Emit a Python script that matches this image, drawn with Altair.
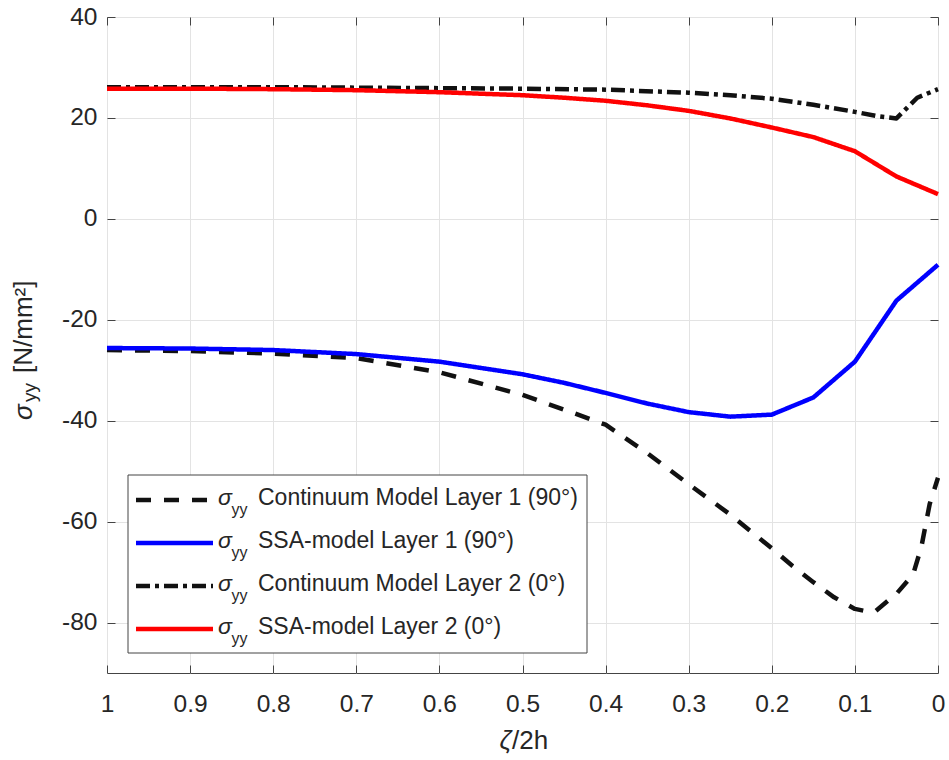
import altair as alt
import pandas as pd

# ---------------- data ----------------
zeta_cont1 = [1.0, 0.9, 0.8, 0.7, 0.6, 0.5, 0.45, 0.4, 0.35, 0.3, 0.25, 0.2, 0.175,
              0.15, 0.125, 0.1, 0.085, 0.075, 0.05, 0.03, 0.02, 0.01, 0.0]
cont_l1 = [-26.0, -26.2, -26.7, -27.6, -30.4, -34.9, -37.8, -40.8, -46.4, -52.6, -58.6,
           -65.3, -68.8, -72.0, -75.0, -77.3, -77.8, -77.7, -74.3, -70.5, -65.0, -56.5, -51.3]

zeta_ssa = [1.0, 0.9, 0.8, 0.7, 0.6, 0.5, 0.45, 0.4, 0.35, 0.3, 0.25, 0.2, 0.15, 0.1, 0.05, 0.0]
ssa_l1 = [-25.6, -25.7, -26.0, -26.8, -28.3, -30.8, -32.5, -34.5, -36.6, -38.3, -39.2,
          -38.8, -35.4, -28.3, -16.2, -9.1]
ssa_l2 = [25.8, 25.8, 25.7, 25.5, 25.1, 24.5, 24.0, 23.4, 22.5, 21.4, 19.9, 18.1, 16.2,
          13.4, 8.4, 4.9]

zeta_cont2 = [1.0, 0.9, 0.8, 0.7, 0.6, 0.5, 0.4, 0.3, 0.25, 0.2, 0.15, 0.1, 0.075, 0.05, 0.025, 0.0]
cont_l2 = [26.1, 26.1, 26.1, 26.0, 25.9, 25.8, 25.6, 25.0, 24.5, 23.8, 22.6, 21.2, 20.4,
           19.9, 24.0, 25.7]

series_keys = ["cont1", "ssa1", "cont2", "ssa2"]
legend_labels = ["Continuum Model Layer 1 (90°)", "SSA-model Layer 1 (90°)",
                 "Continuum Model Layer 2 (0°)", "SSA-model Layer 2 (0°)"]
series_colors = ["#111111", "#0000ff", "#111111", "#ff0000"]
series_dashes = [[15, 13], [1, 0], [14, 5, 4, 5], [1, 0]]

x_ticks = [0, 0.1, 0.2, 0.3, 0.4, 0.5, 0.6, 0.7, 0.8, 0.9, 1]
y_ticks = [-80, -60, -40, -20, 0, 20, 40]

FONT = "Liberation Sans"
TXT = "#262626"
AX = "#444444"
W, H = 831, 656

df_c1 = pd.DataFrame({"z": zeta_cont1, "v": cont_l1})
df_s1 = pd.DataFrame({"z": zeta_ssa, "v": ssa_l1})
df_c2 = pd.DataFrame({"z": zeta_cont2, "v": cont_l2})
df_s2 = pd.DataFrame({"z": zeta_ssa, "v": ssa_l2})

xs = alt.Scale(domain=[0, 1], reverse=True, nice=False, zero=False)
ys = alt.Scale(domain=[-90, 40], nice=False, zero=False)


def xe(axis=None):
    return alt.X("z:Q", scale=xs, axis=axis)


def ye(axis=None):
    return alt.Y("v:Q", scale=ys, axis=axis)


# grid layer (behind everything)
grid = alt.Chart(df_s2).mark_line(opacity=0).encode(
    x=xe(alt.Axis(orient="bottom", values=x_ticks, grid=True, gridColor="#e3e3e3",
                  labels=False, ticks=False, domain=False, title=None)),
    y=ye(alt.Axis(orient="left", values=y_ticks, grid=True, gridColor="#e3e3e3",
                  labels=False, ticks=False, domain=False, title=None)),
)


def line(df, color, dash):
    return alt.Chart(df).mark_line(color=color, strokeDash=dash, strokeWidth=4.5,
                                   strokeJoin="round").encode(x=xe(), y=ye())


l_c1 = line(df_c1, series_colors[0], series_dashes[0])
l_s1 = line(df_s1, series_colors[1], series_dashes[1])
l_c2 = line(df_c2, series_colors[2], series_dashes[2])
l_s2 = line(df_s2, series_colors[3], series_dashes[3])

# main axes: bottom / left, inward ticks
axes_bl = alt.Chart(df_s2).mark_line(opacity=0).encode(
    x=xe(alt.Axis(orient="bottom", values=x_ticks, labelExpr="'' + datum.value",
                  offset=-8, tickSize=8, tickColor=AX, domain=False, grid=False,
                  labelFont=FONT, labelFontSize=24.5, labelColor=TXT, labelPadding=19,
                  labelFlush=False, labelOverlap=False, title=None)),
    y=ye(alt.Axis(orient="left", values=y_ticks, labelExpr="'' + datum.value",
                  offset=-8, tickSize=8, tickColor=AX, domain=False, grid=False,
                  labelFont=FONT, labelFontSize=24.5, labelColor=TXT, labelPadding=10,
                  labelFlush=False, labelOverlap=False, title=None)),
)

# top / right ticks only
axes_tr = alt.Chart(df_s2).mark_line(opacity=0).encode(
    x=xe(alt.Axis(orient="top", values=x_ticks, offset=-8, tickSize=8, tickColor=AX,
                  domain=False, grid=False, labels=False, title=None)),
    y=ye(alt.Axis(orient="right", values=y_ticks, offset=-8, tickSize=8, tickColor=AX,
                  domain=False, grid=False, labels=False, title=None)),
)

# ---------------- legend (box, samples, texts with subscripts) ----------------
legend_df = pd.DataFrame({"series": series_keys, "label": legend_labels, "row": [0, 1, 2, 3]})
row_y = alt.Y("row:Q", scale=alt.Scale(domain=[0, 3], range=[483, 612], nice=False, zero=False),
              axis=None)
col_enc = alt.Color("series:N", scale=alt.Scale(domain=series_keys, range=series_colors),
                    legend=None)
dash_enc = alt.StrokeDash("series:N", scale=alt.Scale(domain=series_keys, range=series_dashes),
                          legend=None)

leg_box = alt.Chart(pd.DataFrame({"b": [0]})).mark_rect(
    fill="white", stroke=AX, strokeWidth=1
).encode(x=alt.value(21), x2=alt.value(480), y=alt.value(458), y2=alt.value(636))

leg_lines = alt.Chart(legend_df).mark_rule(strokeWidth=4.5).encode(
    x=alt.value(29), x2=alt.value(106), y=row_y, color=col_enc, strokeDash=dash_enc
)
leg_sigma = alt.Chart(legend_df).mark_text(
    align="left", baseline="alphabetic", font=FONT, fontSize=23, fontStyle="italic",
    color=TXT, dy=5
).encode(x=alt.value(111), y=row_y, text=alt.value("σ"))
leg_sub = alt.Chart(legend_df).mark_text(
    align="left", baseline="alphabetic", font=FONT, fontSize=16, color=TXT, dy=15
).encode(x=alt.value(124.5), y=row_y, text=alt.value("yy"))
leg_text = alt.Chart(legend_df).mark_text(
    align="left", baseline="alphabetic", font=FONT, fontSize=23, color=TXT, dy=5
).encode(x=alt.value(151), y=row_y, text="label:N")

# ---------------- axis titles ----------------
one = pd.DataFrame({"t": [0]})
ytitle_sigma = alt.Chart(one).mark_text(
    angle=270, align="left", baseline="alphabetic", font=FONT, fontSize=26,
    fontStyle="italic", color=TXT
).encode(x=alt.value(-75), y=alt.value(403), text=alt.value("σ"))
ytitle_sub = alt.Chart(one).mark_text(
    angle=270, align="left", baseline="alphabetic", font=FONT, fontSize=19, color=TXT
).encode(x=alt.value(-71), y=alt.value(385), text=alt.value("yy"))
ytitle_unit = alt.Chart(one).mark_text(
    angle=270, align="left", baseline="alphabetic", font=FONT, fontSize=26, color=TXT
).encode(x=alt.value(-75), y=alt.value(356), text=alt.value("[N/mm²]"))

xtitle_zeta = alt.Chart(one).mark_text(
    align="right", baseline="alphabetic", font=FONT, fontSize=26, fontStyle="italic",
    color=TXT
).encode(x=alt.value(404.5), y=alt.value(732), text=alt.value("ζ"))
xtitle_rest = alt.Chart(one).mark_text(
    align="left", baseline="alphabetic", font=FONT, fontSize=26, color=TXT
).encode(x=alt.value(405), y=alt.value(732), text=alt.value("/2h"))

chart = alt.layer(
    grid, l_c1, l_s1, l_c2, l_s2, axes_bl, axes_tr,
    leg_box, leg_lines, leg_sigma, leg_sub, leg_text,
    ytitle_sigma, ytitle_sub, ytitle_unit, xtitle_zeta, xtitle_rest,
).resolve_scale(
    y="independent"
).resolve_axis(
    x="independent", y="independent"
).properties(
    width=W, height=H,
    autosize=alt.AutoSizeParams(type="none"),
    padding={"left": 107, "top": 17, "right": 11, "bottom": 87},
    background="white",
).configure_view(
    stroke=AX, strokeWidth=1
)

chart.save("out.html", embed_options={"renderer": "svg", "actions": False})
